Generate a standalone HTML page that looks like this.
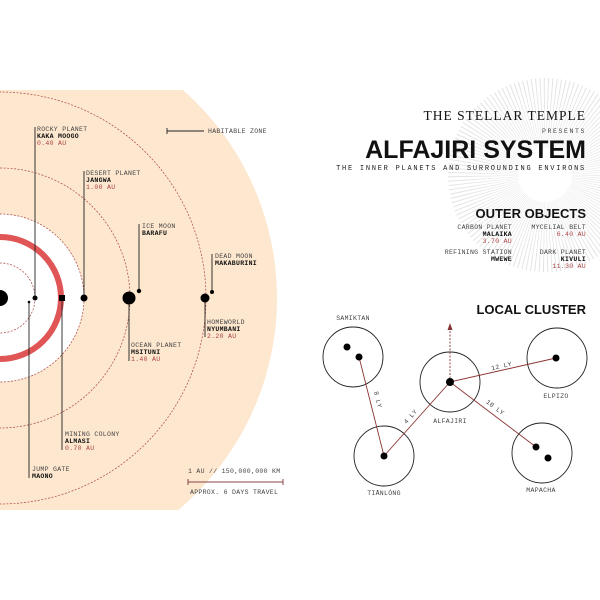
<!DOCTYPE html>
<html><head><style>
html,body{margin:0;padding:0;background:#fff;}
svg{display:block;}
.m{font-family:"Liberation Mono","DejaVu Sans Mono",monospace;font-size:6.5px;fill:#444;letter-spacing:0.3px;}
.b{font-weight:bold;fill:#111;}
.r{fill:#a44;}
</style></head><body>
<svg width="600" height="600" viewBox="0 0 600 600" xmlns="http://www.w3.org/2000/svg">
<defs><clipPath id="c"><rect x="0" y="90" width="600" height="420"/></clipPath></defs>
<circle cx="545" cy="175" r="62" fill="none" stroke="#e4e4e4" stroke-width="70" stroke-dasharray="0.7 2.1"/>
<g clip-path="url(#c)">
<circle cx="0" cy="298" r="277" fill="#fde7cf"/>
<circle cx="0" cy="298" r="84" fill="#fff"/>
<g fill="none" stroke="#a44" stroke-width="0.7" stroke-dasharray="2,1.5">
<circle cx="0" cy="298" r="35"/><circle cx="0" cy="298" r="84"/>
<circle cx="0" cy="298" r="130"/><circle cx="0" cy="298" r="206"/>
</g>
<circle cx="0" cy="298" r="61" fill="none" stroke="#e05555" stroke-width="6"/>
<circle cx="0" cy="298" r="8" fill="#000"/>
</g>
<g stroke="#222" stroke-width="0.9">
<line x1="35" y1="127" x2="35" y2="298"/><line x1="84" y1="171" x2="84" y2="298"/>
<line x1="139" y1="224" x2="139" y2="291"/><line x1="212" y1="254" x2="212" y2="292"/>
<line x1="129" y1="298" x2="129" y2="361"/><line x1="205" y1="298" x2="205" y2="337"/>
<line x1="62" y1="298" x2="62" y2="450"/><line x1="29" y1="302" x2="29" y2="478"/>
<line x1="167" y1="131" x2="204" y2="131"/><line x1="167" y1="128" x2="167" y2="134"/>
</g>
<g fill="#000">
<circle cx="35" cy="298" r="2.5"/><rect x="59" y="295" width="6" height="6"/>
<circle cx="84" cy="298" r="3.5"/><circle cx="129" cy="298" r="6.5"/>
<circle cx="139" cy="291" r="2.2"/><circle cx="205" cy="298" r="4.5"/>
<circle cx="212" cy="292" r="2"/><circle cx="29" cy="302" r="1.3"/>
</g>
<text class="m" x="37" y="131">ROCKY PLANET</text><text class="m b" x="37" y="138">KAKA MOOGO</text><text class="m r" x="37" y="145">0.40 AU</text>
<text class="m" x="86" y="175">DESERT PLANET</text><text class="m b" x="86" y="182">JANGWA</text><text class="m r" x="86" y="189">1.00 AU</text>
<text class="m" x="142" y="228">ICE MOON</text><text class="m b" x="142" y="235">BARAFU</text>
<text class="m" x="215" y="258">DEAD MOON</text><text class="m b" x="215" y="265">MAKABURINI</text>
<text class="m" x="131" y="347">OCEAN PLANET</text><text class="m b" x="131" y="354">MSITUNI</text><text class="m r" x="131" y="361">1.40 AU</text>
<text class="m" x="207" y="324">HOMEWORLD</text><text class="m b" x="207" y="331">NYUMBANI</text><text class="m r" x="207" y="338">2.20 AU</text>
<text class="m" x="65" y="436">MINING COLONY</text><text class="m b" x="65" y="443">ALMASI</text><text class="m r" x="65" y="450">0.70 AU</text>
<text class="m" x="32" y="471">JUMP GATE</text><text class="m b" x="32" y="478">MAONO</text>
<text class="m" x="208" y="133">HABITABLE ZONE</text>
<text class="m" x="188" y="473">1 AU // 150,000,000 KM</text>
<g stroke="#844" stroke-width="1"><line x1="188" y1="482" x2="283" y2="482"/><line x1="188" y1="479" x2="188" y2="485"/><line x1="283" y1="479" x2="283" y2="485"/></g>
<text class="m" x="190" y="494">APPROX. 6 DAYS TRAVEL</text>
<g text-anchor="end">
<text x="586" y="120" style="font-family:'Liberation Serif',serif;font-size:13.5px;letter-spacing:1px;fill:#111">THE STELLAR TEMPLE</text>
<text class="m" x="586" y="133" style="letter-spacing:1.6px;font-size:6.5px">PRESENTS</text>
<text x="586" y="158" style="font-family:'Liberation Sans',sans-serif;font-weight:bold;font-size:25px;fill:#111">ALFAJIRI SYSTEM</text>
<text class="m" x="586" y="170" style="font-size:7px;letter-spacing:1.75px;fill:#222">THE INNER PLANETS AND SURROUNDING ENVIRONS</text>
<text x="586" y="218" style="font-family:'Liberation Sans',sans-serif;font-weight:bold;font-size:13px;fill:#111">OUTER OBJECTS</text>
<text class="m" x="512" y="229">CARBON PLANET</text><text class="m b" x="512" y="236">MALAIKA</text><text class="m r" x="512" y="243">3.70 AU</text>
<text class="m" x="512" y="254">REFINING STATION</text><text class="m b" x="512" y="261">MWEWE</text>
<text class="m" x="586" y="229">MYCELIAL BELT</text><text class="m r" x="586" y="236">6.40 AU</text>
<text class="m" x="586" y="254">DARK PLANET</text><text class="m b" x="586" y="261">KIVULI</text><text class="m r" x="586" y="268">11.30 AU</text>
<text x="586" y="314" style="font-family:'Liberation Sans',sans-serif;font-weight:bold;font-size:13px;fill:#111">LOCAL CLUSTER</text>
</g>
<g fill="none" stroke="#222" stroke-width="0.9">
<circle cx="353" cy="357" r="30"/><circle cx="450" cy="382" r="30"/><circle cx="557" cy="358" r="30"/>
<circle cx="384" cy="456" r="30"/><circle cx="542" cy="453" r="30"/>
</g>
<g stroke="#8a3333" stroke-width="0.9">
<line x1="359" y1="357" x2="384" y2="456"/><line x1="384" y1="456" x2="450" y2="382"/>
<line x1="450" y1="382" x2="556" y2="358"/><line x1="450" y1="382" x2="536" y2="447"/>
<line x1="450" y1="382" x2="450" y2="328" stroke-dasharray="2,1.5"/>
</g>
<polygon points="450,323 447.5,330 452.5,330" fill="#8a3333"/>
<g fill="#000">
<circle cx="347" cy="347" r="3.5"/><circle cx="359" cy="357" r="3.5"/>
<circle cx="450" cy="382" r="4"/><circle cx="556" cy="358" r="3.5"/>
<circle cx="384" cy="456" r="3.5"/><circle cx="536" cy="447" r="3.5"/><circle cx="548" cy="458" r="3.5"/>
</g>
<g text-anchor="middle">
<text class="m" x="353" y="320">SAMIKTAN</text><text class="m" x="450" y="423">ALFAJIRI</text>
<text class="m" x="556" y="398">ELPIZO</text><text class="m" x="384" y="495">TIĀNLÓNG</text><text class="m" x="541" y="492">MAPACHA</text>
<text class="m" transform="translate(376,400) rotate(76)">8 LY</text>
<text class="m" transform="translate(412,418) rotate(-48)">4 LY</text>
<text class="m" transform="translate(502,368) rotate(-13)">12 LY</text>
<text class="m" transform="translate(494,409) rotate(37)">10 LY</text>
</g>
</svg>
</body></html>
